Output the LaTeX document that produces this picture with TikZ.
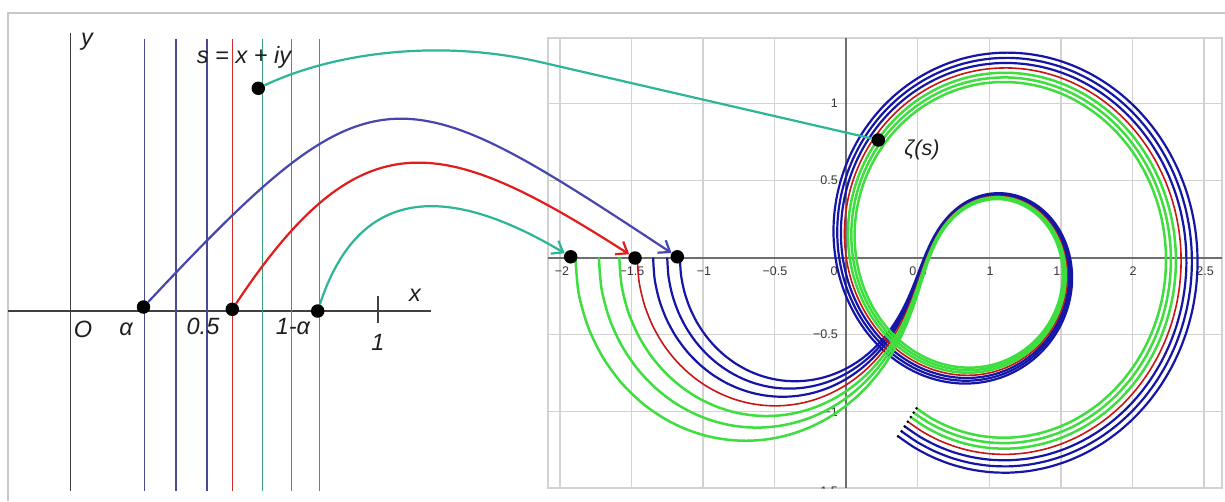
\documentclass[tikz,border=0pt]{standalone}
\usepackage{fontspec}
\setmainfont{Liberation Sans}
\usetikzlibrary{arrows.meta}

\definecolor{framel}{HTML}{C8C8C8}
\definecolor{gridg}{HTML}{D2D2D2}
\definecolor{axisg}{HTML}{6E6E6E}
\definecolor{axisl}{HTML}{404040}
\definecolor{lblue}{HTML}{4A4A90}
\definecolor{lred}{HTML}{D02A2A}
\definecolor{lgreen}{HTML}{3A9C78}
\definecolor{cteal}{HTML}{2DB598}
\definecolor{cblue}{HTML}{4646AE}
\definecolor{cred}{HTML}{E01C1C}
\definecolor{zblue}{HTML}{1616A6}
\definecolor{zred}{HTML}{C81616}
\definecolor{zgreen}{HTML}{3EDE3E}

\ExplSyntaxOn
\int_step_inline:nnn {2}{8}
  {
    \fp_const:cn { c__z_ln#1_fp } { ln(#1) }
    \fp_new:c { l__z_p#1_fp }
  }
\clist_map_inline:nn { sig, t, re, im, ang, pr, pi, d, cr, ci, ar, ai, br, bi, er, ei }
  { \fp_new:c { l__z_#1_fp } }
\tl_new:N \g__z_path_tl
\tl_new:N \g__z_last_tl

\cs_new_protected:Npn \z_setsigma:n #1
  {
    \fp_set:Nn \l__z_sig_fp {#1}
    \int_step_inline:nnn {2}{8}
      { \fp_set:cn { l__z_p##1_fp } { (##1)^(-\l__z_sig_fp) } }
  }

\cs_new_protected:Npn \z_point:n #1
  {
    \fp_set:Nn \l__z_t_fp {#1}
    \fp_set:Nn \l__z_re_fp {1}
    \fp_set:Nn \l__z_im_fp {0}
    \int_step_inline:nnn {2}{7}
      {
        \fp_set:Nn \l__z_ang_fp { \l__z_t_fp * \use:c { c__z_ln##1_fp } }
        \fp_add:Nn \l__z_re_fp { \use:c { l__z_p##1_fp } * cos(\l__z_ang_fp) }
        \fp_sub:Nn \l__z_im_fp { \use:c { l__z_p##1_fp } * sin(\l__z_ang_fp) }
      }
    \fp_set:Nn \l__z_ang_fp { \l__z_t_fp * \use:c { c__z_ln8_fp } }
    \fp_set:Nn \l__z_pr_fp { \use:c { l__z_p8_fp } * cos(\l__z_ang_fp) }
    \fp_set:Nn \l__z_pi_fp { - \use:c { l__z_p8_fp } * sin(\l__z_ang_fp) }
    \fp_set:Nn \l__z_d_fp { (\l__z_sig_fp - 1)^2 + \l__z_t_fp^2 }
    \fp_set:Nn \l__z_cr_fp { 8*(\l__z_sig_fp - 1)/\l__z_d_fp + 0.5 + \l__z_sig_fp/96 }
    \fp_set:Nn \l__z_ci_fp { -8*\l__z_t_fp/\l__z_d_fp + \l__z_t_fp/96 }
    \fp_set:Nn \l__z_ar_fp { \l__z_sig_fp*(\l__z_sig_fp+1) - \l__z_t_fp^2 }
    \fp_set:Nn \l__z_ai_fp { \l__z_t_fp*(2*\l__z_sig_fp+1) }
    \fp_set:Nn \l__z_br_fp { \l__z_ar_fp*(\l__z_sig_fp+2) - \l__z_ai_fp*\l__z_t_fp }
    \fp_set:Nn \l__z_bi_fp { \l__z_ar_fp*\l__z_t_fp + \l__z_ai_fp*(\l__z_sig_fp+2) }
    \fp_sub:Nn \l__z_cr_fp { \l__z_br_fp/368640 }
    \fp_sub:Nn \l__z_ci_fp { \l__z_bi_fp/368640 }
    \fp_set:Nn \l__z_er_fp { (\l__z_sig_fp+3)*(\l__z_sig_fp+4) - \l__z_t_fp^2 }
    \fp_set:Nn \l__z_ei_fp { \l__z_t_fp*(2*\l__z_sig_fp+7) }
    \fp_add:Nn \l__z_cr_fp { (\l__z_br_fp*\l__z_er_fp - \l__z_bi_fp*\l__z_ei_fp)/990904320 }
    \fp_add:Nn \l__z_ci_fp { (\l__z_br_fp*\l__z_ei_fp + \l__z_bi_fp*\l__z_er_fp)/990904320 }
    \fp_add:Nn \l__z_re_fp { \l__z_pr_fp*\l__z_cr_fp - \l__z_pi_fp*\l__z_ci_fp }
    \fp_add:Nn \l__z_im_fp { \l__z_pr_fp*\l__z_ci_fp + \l__z_pi_fp*\l__z_cr_fp }
  }

\cs_new_protected:Npn \z_push:
  {
    \tl_gset:Nx \g__z_last_tl
      { ( \fp_eval:n { round(846.2 + 143.1*\l__z_re_fp, 2) } ,
          \fp_eval:n { round(257.5 - 154.2*\l__z_im_fp, 2) } ) }
    \tl_gput_right:NV \g__z_path_tl \g__z_last_tl
  }

\cs_new_protected:Npn \z_curve:nn #1 #2
  {
    \z_setsigma:n {#1}
    \tl_gclear:N \g__z_path_tl
    \fp_step_inline:nnnn {0}{0.04}{1.6} { \z_point:n {##1} \z_push: }
    \fp_step_inline:nnnn {1.7}{0.1}{20} { \z_point:n {##1} \z_push: }
    \use:x { \exp_not:N \draw [#2] ~ plot ~ [smooth] ~ coordinates ~ { \exp_not:V \g__z_path_tl } ; }
    \use:x { \exp_not:N \fill [black] ~ \exp_not:V \g__z_last_tl ~ circle ~ (1.4) ; }
  }
\NewDocumentCommand \ZetaCurve { m m } { \z_curve:nn {#1} {#2} }
\ExplSyntaxOff

\begin{document}
\begin{tikzpicture}[x=1pt,y=-1pt,
  every node/.style={inner sep=0pt},
  lab/.style={font=\fontsize{23.5}{24}\selectfont\itshape, text=black!88},
  ticklab/.style={font=\fontsize{12.5}{13}\selectfont, text=black!78},
  dot/.style={circle, fill=black, minimum size=13.5pt, inner sep=0pt},
  frameline/.style={draw=framel, line width=2pt},
  gridline/.style={draw=gridg, line width=1.4pt},
  axisr/.style={draw=axisg, line width=2pt},
  axisleft/.style={draw=axisl, line width=1.4pt},
  vblue/.style={draw=lblue, line width=1.2pt},
  vred/.style={draw=lred, line width=1.2pt},
  vgreen/.style={draw=lgreen, line width=1.2pt},
  zb/.style={draw=zblue, line width=2.2pt},
  zr/.style={draw=zred, line width=1.6pt},
  zg/.style={draw=zgreen, line width=2.5pt},
  tip/.style={-{Straight Barb[length=10pt,width=15pt]}},
  conteal/.style={draw=cteal, line width=2.2pt},
  conblue/.style={draw=cblue, line width=2.2pt},
  conred/.style={draw=cred, line width=2.2pt}
]
\useasboundingbox (0,0) rectangle (1225,501);
\fill[white] (0,0) rectangle (1225,501);
\draw[frameline] (8,501) -- (8,13) -- (1225,13);

% ---------- right panel: grid, axes, tick labels
\foreach \k in {-4,...,5} { \draw[gridline] ({846.2+71.55*\k},38) -- ({846.2+71.55*\k},488); }
\foreach \yy in {103.3,180.4,334.6,411.7} { \draw[gridline] (548,\yy) -- (1222,\yy); }
\draw[gridline] (548,38) rectangle (1222,488);
\draw[axisr] (548,257.5) -- (1222,257.5);
\draw[axisr] (846.2,38) -- (846.2,488);
\begin{scope}
\clip (548,38) rectangle (1222,488);
\node[ticklab] (tx1) at (562,271) {−2};
\node[ticklab] (tx2) at (632,271) {−1.5};
\node[ticklab] (tx3) at (704,271) {−1};
\node[ticklab] (tx4) at (775,271) {−0.5};
\node[ticklab] (tx5) at (834,271) {0};
\node[ticklab] (tx6) at (918,271) {0.5};
\node[ticklab] (tx7) at (990,271) {1};
\node[ticklab] (tx8) at (1062,271) {1.5};
\node[ticklab] (tx9) at (1133,271) {2};
\node[ticklab] (tx10) at (1205,271) {2.5};
\node[ticklab, anchor=east] (ty1) at (838,103.3) {1};
\node[ticklab, anchor=east] (ty2) at (838,180.4) {0.5};
\node[ticklab, anchor=east] (ty3) at (838,334.6) {−0.5};
\node[ticklab, anchor=east] (ty4) at (838,411.7) {−1};
\node[ticklab, anchor=east] (ty5) at (838,491) {−1.5};
\end{scope}

% ---------- zeta curves
\ZetaCurve{0.41}{zb}
\ZetaCurve{0.44}{zb}
\ZetaCurve{0.47}{zb}
\ZetaCurve{0.5}{zr}
\ZetaCurve{0.53}{zg}
\ZetaCurve{0.56}{zg}
\ZetaCurve{0.59}{zg}

% ---------- left panel
\draw[axisleft] (8,311) -- (431,311);
\draw[axisleft] (70.7,33) -- (70.7,491);
\draw[axisleft] (378,296) -- (378,323);
\draw[vblue] (144.2,39) -- (144.2,491);
\draw[vblue] (175.9,39) -- (175.9,491);
\draw[vblue] (206.9,39) -- (206.9,491);
\draw[vred] (232.5,39) -- (232.5,491);
\draw[vgreen] (262.6,39) -- (262.6,491);
\draw[vgreen] (291.1,39) -- (291.1,491);
\draw[vgreen] (319.7,39) -- (319.7,491);

\node[lab] (ly) at (87,42) {y};
\node[lab] (ls) at (244,57) {s = x + iy};
\node[lab] (lx) at (415,295) {x};
\node[lab] (lO) at (83,329) {O};
\node[lab] (lal) at (126,329) {α};
\node[lab] (l05) at (203,326) {0.5};
\node[lab] (l1a) at (293,327) {1-α};
\node[lab] (l1) at (378,342) {1};
\node[lab, font=\fontsize{21.5}{22}\selectfont\itshape] (lz) at (922,150) {ζ(s)};

% ---------- points and connectors
\node[dot] (pa) at (143.5,307) {};
\node[dot] (ph) at (232.3,309.3) {};
\node[dot] (pb) at (317.7,311) {};
\node[dot] (ps) at (258.3,88.3) {};
\node[dot] (za) at (677.3,256.8) {};
\node[dot] (zh) at (635,258) {};
\node[dot] (zb) at (570.7,256.8) {};
\node[dot] (zs) at (878.3,140) {};
\coordinate (bend) at (540,62);

\draw[conteal] (ps) .. controls (335,52) and (440,39) .. (bend) -- (zs);
\draw[conblue, tip] (pa) .. controls (374,61) and (397,72) .. (za);
\draw[conred, tip] (ph) .. controls (362,114) and (443,135) .. (zh);
\draw[conteal, tip] (pb) .. controls (357,191) and (440,179) .. (zb);
\end{tikzpicture}
\end{document}
